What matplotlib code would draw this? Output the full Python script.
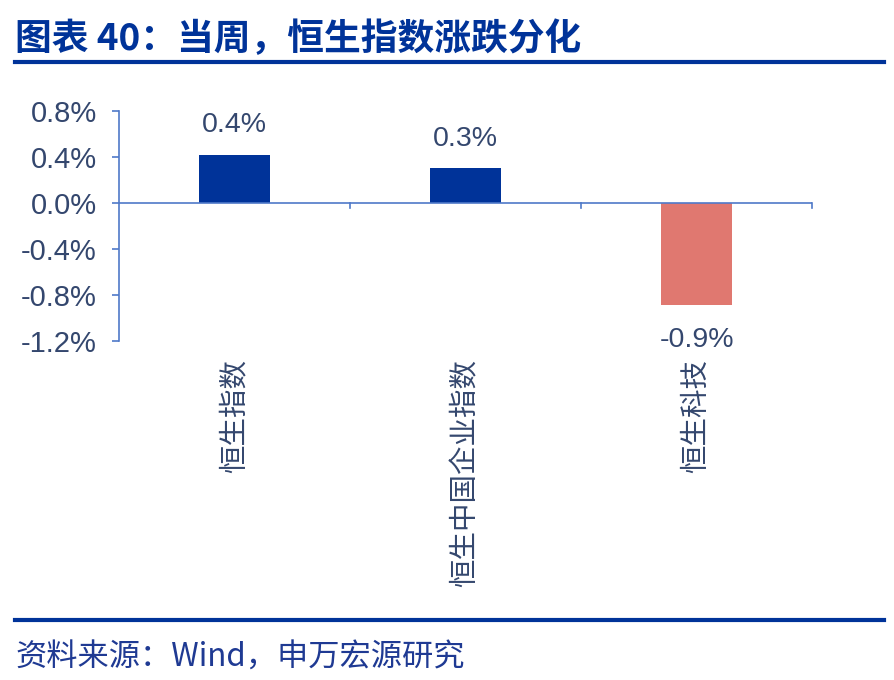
import matplotlib.pyplot as plt
from matplotlib.lines import Line2D

plt.rcParams['font.family'] = ['Liberation Sans', 'Noto Sans CJK SC', 'DejaVu Sans']

# 数据
categories = ['恒生指数', '恒生中国企业指数', '恒生科技']
values = [0.42, 0.30, -0.89]
labels = ['0.4%', '0.3%', '-0.9%']
yticks = [0.8, 0.4, 0.0, -0.4, -0.8, -1.2]
colors = ['#003399', '#003399', '#E07870']

axis_color = '#4F79C8'
text_color = '#34476E'
cjk = ['Noto Sans CJK SC', 'DejaVu Sans']

fig = plt.figure(figsize=(8.94, 6.8), dpi=100)
ax = fig.add_axes([0.1331, 0.4985, 0.7752, 0.3383])

x = list(range(len(categories)))
ax.bar(x, values, width=0.31, color=colors, zorder=2)

ax.set_xlim(-0.5, len(categories) - 0.5)
ax.set_ylim(-1.2, 0.8)
ax.set_yticks(yticks)
ax.set_yticklabels([f'{t:.1f}%' for t in yticks], fontsize=21, color=text_color)
ax.tick_params(axis='y', colors=axis_color, length=5, width=1.2, labelcolor=text_color, pad=11)

# 坐标轴
for s in ['top', 'right', 'bottom']:
    ax.spines[s].set_visible(False)
ax.spines['left'].set_color(axis_color)
ax.spines['left'].set_linewidth(1.2)
ax.axhline(0, color=axis_color, lw=1.2, zorder=3)
ax.set_xticks([])
for b in [0.5, 1.5, 2.5]:
    ax.plot([b, b], [0, -0.04], color=axis_color, lw=1.2, clip_on=False, zorder=3)

# 数值标签
for xi, v, lab in zip(x, values, labels):
    off = 0.26 if v >= 0 else -0.30
    ax.text(xi, v + off, lab, ha='center', va='center', fontsize=20.5,
            color=text_color, clip_on=False)

# 分类标签（竖排）
for xi, c in zip(x, categories):
    ax.text(xi, -1.36, c, rotation=90, ha='center', va='top', fontsize=20.5,
            color=text_color, family=cjk)

# 标题与来源
fig.text(0.017, 0.942, '图表 40：当周，恒生指数涨跌分化', fontsize=26.5, fontweight='bold',
         color='#003399', va='center', ha='left', family=cjk)
fig.add_artist(Line2D([0.017, 0.989], [0.909, 0.909], color='#003399', lw=3))
fig.add_artist(Line2D([0.017, 0.989], [0.088, 0.088], color='#003399', lw=3))
fig.text(0.017, 0.033, '资料来源：Wind，申万宏源研究', fontsize=22.5, color='#1F3A93',
         va='center', ha='left', family=cjk)

fig.savefig('out.png', dpi=100)
